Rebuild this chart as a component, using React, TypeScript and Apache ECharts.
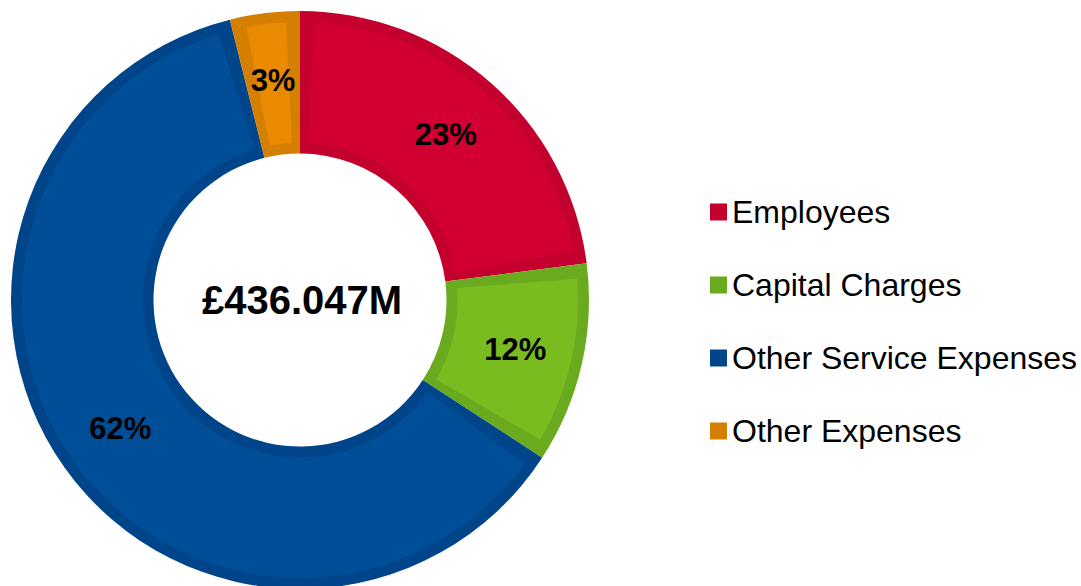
import React, { useEffect, useRef } from "react";
import * as echarts from "echarts";

const categories = ["Employees", "Capital Charges", "Other Service Expenses", "Other Expenses"];
const values = [100.2, 48.9, 270.0, 17.0]; // £M (estimated)
const percentLabels = ["23%", "12%", "62%", "3%"];
const totalLabel = "£436.047M";
const fillColors = ["#D20032", "#78BC20", "#004E98", "#E98A00"];
const edgeColors = ["#C3002E", "#6AAA1E", "#00458A", "#D47F00"];

const FONT = "'Liberation Sans', Arial, Helvetica, sans-serif";

export default function App() {
  const ref = useRef<HTMLDivElement>(null);
  useEffect(() => {
    document.body.style.margin = "0";
    if (!ref.current) return;
    const chart = echarts.init(ref.current, undefined, { renderer: "svg" });
    const edgeData = categories.map((name, i) => ({
      name,
      value: values[i],
      itemStyle: { color: edgeColors[i] },
    }));
    const fillData = categories.map((name, i) => ({
      name,
      value: values[i],
      itemStyle: { color: fillColors[i] },
      label: { formatter: percentLabels[i] },
    }));
    chart.setOption({
      animation: false,
      legend: {
        orient: "vertical",
        left: 710,
        top: 196,
        padding: 0,
        icon: "rect",
        itemWidth: 17,
        itemHeight: 17,
        itemGap: 41,
        selectedMode: false,
        data: categories,
        textStyle: {
          fontFamily: FONT,
          fontSize: 32,
          lineHeight: 32,
          color: "#000",
        },
      },
      graphic: [
        {
          type: "text",
          x: 302,
          y: 300,
          style: {
            text: totalLabel,
            fontFamily: FONT,
            fontSize: 40,
            fontWeight: "bold",
            fill: "#000",
            align: "center",
            verticalAlign: "middle",
          },
          z: 10,
        },
      ],
      series: [
        {
          type: "pie",
          center: [300, 300],
          radius: [146.5, 289],
          startAngle: 90,
          clockwise: true,
          silent: true,
          label: { show: false },
          labelLine: { show: false },
          emphasis: { disabled: true },
          itemStyle: { borderWidth: 0 },
          data: edgeData,
        },
        {
          type: "pie",
          center: [300, 300],
          radius: [157.5, 278],
          startAngle: 90,
          clockwise: true,
          silent: true,
          padAngle: 5.8,
          emphasis: { disabled: true },
          itemStyle: { borderWidth: 0 },
          label: {
            show: true,
            position: "inside",
            fontFamily: FONT,
            fontSize: 31,
            fontWeight: "bold",
            color: "#000",
          },
          labelLine: { show: false },
          data: fillData,
        },
      ],
    });
    return () => chart.dispose();
  }, []);
  return <div ref={ref} style={{ width: 1081, height: 586 }} />;
}
